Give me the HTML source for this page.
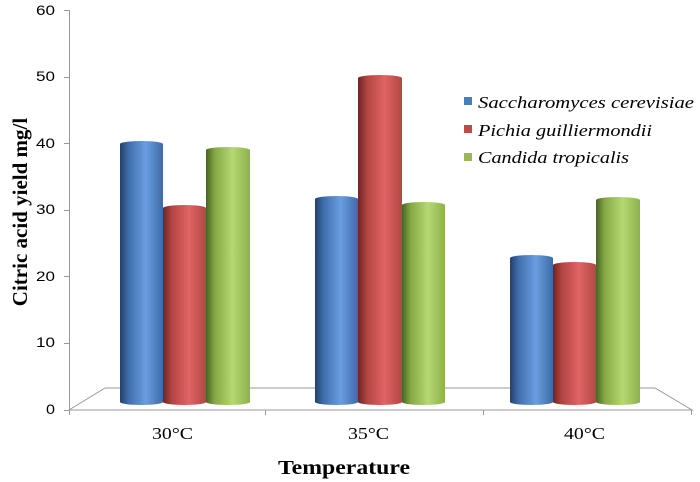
<!DOCTYPE html>
<html><head><style>body{margin:0;background:#fff}svg{display:block}</style></head><body>
<svg width="700" height="482" xmlns="http://www.w3.org/2000/svg">
<defs>
<linearGradient id="b" x1="0" x2="1"><stop offset="0" stop-color="#24406a"/><stop offset="0.2" stop-color="#3f6eac"/><stop offset="0.6" stop-color="#6a9ee0"/><stop offset="1" stop-color="#3d6aa6"/></linearGradient>
<linearGradient id="r" x1="0" x2="1"><stop offset="0" stop-color="#6a2524"/><stop offset="0.2" stop-color="#b04442"/><stop offset="0.6" stop-color="#e06462"/><stop offset="1" stop-color="#b24744"/></linearGradient>
<linearGradient id="g" x1="0" x2="1"><stop offset="0" stop-color="#4a6322"/><stop offset="0.2" stop-color="#86a845"/><stop offset="0.6" stop-color="#b6d872"/><stop offset="1" stop-color="#8db14b"/></linearGradient>
</defs>
<g stroke="#999" fill="none" stroke-width="1">
<line x1="69.5" y1="10" x2="69.5" y2="410"/>
<line x1="64" y1="10.5" x2="69" y2="10.5"/><line x1="64" y1="77.5" x2="69" y2="77.5"/><line x1="64" y1="143.5" x2="69" y2="143.5"/><line x1="64" y1="210.5" x2="69" y2="210.5"/><line x1="64" y1="276.5" x2="69" y2="276.5"/><line x1="64" y1="343.5" x2="69" y2="343.5"/><line x1="64" y1="410.5" x2="69" y2="410.5"/>
<polyline points="69,410 105,388 655,388 692,410 69,410"/>
<line x1="69.5" y1="410" x2="69.5" y2="415"/><line x1="265.5" y1="410" x2="265.5" y2="415"/><line x1="483.5" y1="410" x2="483.5" y2="415"/><line x1="691.5" y1="410" x2="691.5" y2="415"/>
</g>
<g font-family="Liberation Sans, sans-serif" font-size="14" fill="#000">
<text x="36" y="15" textLength="19" lengthAdjust="spacingAndGlyphs">60</text><text x="36" y="81" textLength="19" lengthAdjust="spacingAndGlyphs">50</text><text x="36" y="148" textLength="19" lengthAdjust="spacingAndGlyphs">40</text><text x="36" y="214" textLength="19" lengthAdjust="spacingAndGlyphs">30</text><text x="36" y="281" textLength="19" lengthAdjust="spacingAndGlyphs">20</text><text x="36" y="347" textLength="19" lengthAdjust="spacingAndGlyphs">10</text><text x="46" y="414" textLength="9" lengthAdjust="spacingAndGlyphs">0</text>
</g>
<g>
<path d="M120,144 a21.5,3 0 0 1 43,0 V402 a21.5,3 0 0 1 -43,0Z" fill="url(#b)"/>
<path d="M163,208 a21.5,3 0 0 1 43,0 V402 a21.5,3 0 0 1 -43,0Z" fill="url(#r)"/>
<path d="M206,150 a22,3 0 0 1 44,0 V402 a22,3 0 0 1 -44,0Z" fill="url(#g)"/>
<path d="M315,199 a21.5,3 0 0 1 43,0 V402 a21.5,3 0 0 1 -43,0Z" fill="url(#b)"/>
<path d="M358,78 a22,3 0 0 1 44,0 V402 a22,3 0 0 1 -44,0Z" fill="url(#r)"/>
<path d="M402,205 a21.5,3 0 0 1 43,0 V402 a21.5,3 0 0 1 -43,0Z" fill="url(#g)"/>
<path d="M510,258 a21.5,3 0 0 1 43,0 V402 a21.5,3 0 0 1 -43,0Z" fill="url(#b)"/>
<path d="M553,265 a21.5,3 0 0 1 43,0 V402 a21.5,3 0 0 1 -43,0Z" fill="url(#r)"/>
<path d="M596,200 a22,3 0 0 1 44,0 V402 a22,3 0 0 1 -44,0Z" fill="url(#g)"/>
</g>
<rect x="464" y="97" width="8" height="8" fill="#4a7ebb"/>
<rect x="464" y="125" width="8" height="8" fill="#be4b48"/>
<rect x="464" y="153" width="8" height="8" fill="#98b954"/>
<g font-family="Liberation Serif, serif" font-style="italic" font-size="17" fill="#000">
<text x="478" y="108" textLength="216" lengthAdjust="spacingAndGlyphs">Saccharomyces cerevisiae</text>
<text x="478" y="136" textLength="174" lengthAdjust="spacingAndGlyphs">Pichia guilliermondii</text>
<text x="478" y="163" textLength="151" lengthAdjust="spacingAndGlyphs">Candida tropicalis</text>
</g>
<g font-family="Liberation Serif, serif" font-size="17" fill="#000">
<text x="152" y="439" textLength="41" lengthAdjust="spacingAndGlyphs">30°C</text><text x="348" y="439" textLength="41" lengthAdjust="spacingAndGlyphs">35°C</text><text x="564" y="439" textLength="41" lengthAdjust="spacingAndGlyphs">40°C</text>
</g>
<text x="278" y="474" font-family="Liberation Serif, serif" font-weight="bold" font-size="20" textLength="132" lengthAdjust="spacingAndGlyphs">Temperature</text>
<text transform="translate(27,212) rotate(-90)" font-family="Liberation Serif, serif" font-weight="bold" font-size="21" text-anchor="middle">Citric acid yield mg/l</text>
</svg>
</body></html>
